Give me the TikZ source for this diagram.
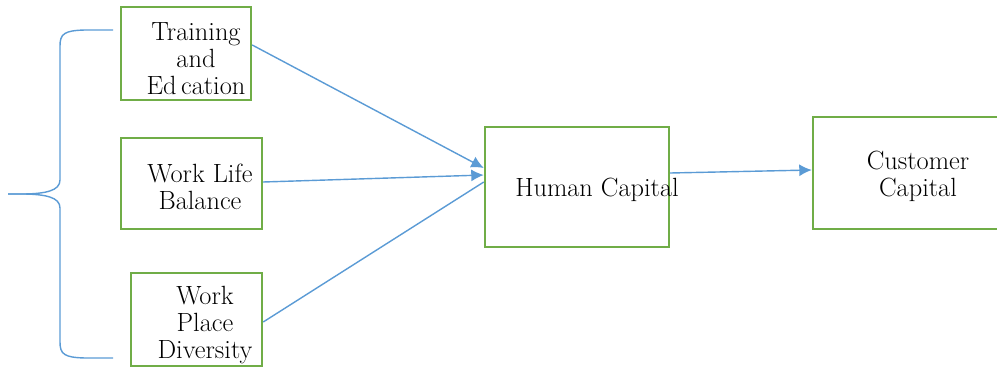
\documentclass[tikz,border=0pt]{standalone}
\usepackage{tikz}
\usetikzlibrary{calc,positioning,arrows.meta}
\definecolor{boxgreen}{RGB}{112,173,71}
\definecolor{lineblue}{RGB}{91,155,213}
\tikzset{
  factor/.style = {draw=boxgreen, line width=1.4pt, inner sep=0pt},
  txt/.style = {align=center, inner sep=0pt, font=\fontsize{15}{15.4}\selectfont},
  link/.style = {draw=lineblue, line width=.8pt},
  arrow/.style = {link, -{Latex[length=2.5mm,width=2.4mm]}}
}
\begin{document}
\begin{tikzpicture}[x=0.02cm, y=-0.02cm]
\useasboundingbox (0,0) rectangle (997,368);
% boxes
\node[factor, minimum width=2.6cm, minimum height=1.86cm] (train) at (186,53.5) {};
\node[factor, minimum width=2.82cm, minimum height=1.82cm] (wlb) at (191.5,183.5) {};
\node[factor, minimum width=2.62cm, minimum height=1.86cm] (wpd) at (196.5,319.5) {};
\node[factor, minimum width=3.68cm, minimum height=2.4cm] (human) at (577,187) {};
\node[factor, minimum width=3.7cm, minimum height=2.24cm] (cust) at (905.5,173) {};
% texts
\node[txt] (train-t) at (196,59) {Training\\and\\Ed\,cation};
\node[txt] (wlb-t) at (200,187) {Work Life\\Balance};
\node[txt] (wpd-t) at (205,325) {Work\\Place\\Diversity};
\node[txt] (human-t) at (597,190) {Human Capital};
\node[txt] (cust-t) at (918,176) {Customer\\Capital};
% brace
\coordinate (btop) at (113,30);
\coordinate (btip) at (8,194);
\coordinate (bbot) at (113,358);
\draw[link] (btop) -- (85,30) .. controls (64,30.5) and (60,34) .. (60,46)
  -- (60,180) .. controls (60,191) and (45,193.5) .. (25,194) -- (btip);
\draw[link] (btip) -- (25,194) .. controls (45,194.5) and (60,197) .. (60,208)
  -- (60,342) .. controls (60,354) and (64,357.5) .. (85,358) -- (bbot);
% connectors
\draw[arrow] ([yshift=0.17cm]train.east) -- ([yshift=0.38cm]human.west);
\draw[arrow] ([yshift=0.03cm]wlb.east) -- ([yshift=0.24cm]human.west);
\draw[link] ([yshift=-0.05cm]wpd.east) -- ([yshift=0.1cm]human.west);
\draw[arrow] ([yshift=0.28cm]human.east) -- ([yshift=0.06cm]cust.west);
\end{tikzpicture}
\end{document}
